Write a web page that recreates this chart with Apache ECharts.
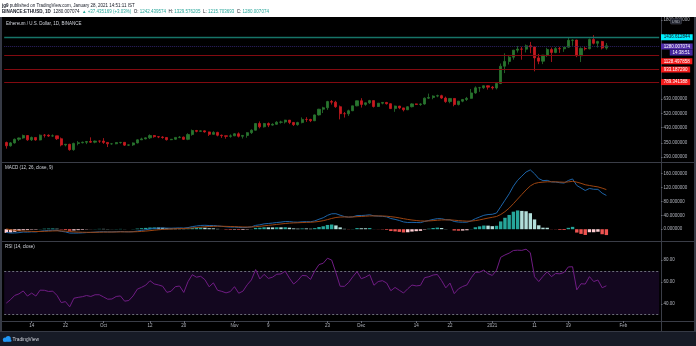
<!DOCTYPE html>
<html><head><meta charset="utf-8">
<script src="https://cdn.jsdelivr.net/npm/echarts@6.0.0/dist/echarts.min.js"></script>
<style>
html,body{margin:0;padding:0;background:#fff;}
#wrap{position:relative;width:696px;height:346px;overflow:hidden;background:#fff;}
.d{position:absolute;}
#chart{position:absolute;left:0;top:0;width:696px;height:346px;}
</style></head><body>
<div id="wrap">
 <div class="d" style="left:0;top:332px;width:696px;height:14px;background:#171b26"></div>
 <div class="d" style="left:0;top:17px;width:696px;height:315px;background:#363a45"></div>
 <div class="d" style="left:2px;top:17px;width:692px;height:314px;background:#000"></div>
 <div class="d" style="left:2px;top:162px;width:692px;height:1px;background:#3a3d47"></div>
 <div class="d" style="left:2px;top:241px;width:692px;height:1px;background:#3a3d47"></div>
 <div class="d" style="left:2px;top:321px;width:692px;height:1px;background:#3a3d47"></div>
 <div class="d" style="left:661px;top:17px;width:1px;height:314px;background:#3a3d47"></div>
 <div id="chart"></div>
</div>
<script>
// ---- DATA ----
// [date, open, close, low, high]
const ohlc = [
['2020-09-08',352.7,337.6,325.0,357.0],['2020-09-09',337.6,351.0,333.8,355.0],['2020-09-10',351.0,368.1,347.5,372.0],
['2020-09-11',368.1,374.7,360.0,376.8],['2020-09-12',374.7,387.2,370.6,392.0],['2020-09-13',387.2,365.6,360.7,388.6],
['2020-09-14',365.6,377.3,360.0,382.0],['2020-09-15',377.3,364.8,361.6,378.4],['2020-09-16',364.8,389.0,362.9,392.7],
['2020-09-17',389.0,388.6,377.0,395.0],['2020-09-18',388.6,384.4,380.0,393.4],['2020-09-19',384.4,385.5,381.0,392.8],
['2020-09-20',385.5,370.9,365.0,386.0],['2020-09-21',370.9,341.4,335.0,377.0],['2020-09-22',341.4,344.5,335.0,346.0],
['2020-09-23',344.5,320.6,316.0,346.6],['2020-09-24',320.6,348.5,316.0,352.0],['2020-09-25',348.5,351.7,339.6,359.6],
['2020-09-26',351.7,353.9,348.5,357.0],['2020-09-27',353.9,357.5,345.3,360.0],['2020-09-28',357.5,354.3,351.0,377.8],
['2020-09-29',354.3,359.5,349.2,362.0],['2020-09-30',359.5,359.4,351.0,361.8],
['2020-10-01',359.4,353.2,346.2,374.0],['2020-10-02',353.2,346.5,332.0,354.4],['2020-10-03',346.5,346.8,342.5,349.6],
['2020-10-04',346.8,352.4,344.5,353.7],['2020-10-05',352.4,353.5,347.5,355.0],['2020-10-06',353.5,340.6,337.0,354.0],
['2020-10-07',340.6,341.7,336.9,344.0],['2020-10-08',341.7,350.7,337.0,353.3],['2020-10-09',350.7,365.5,348.5,367.9],
['2020-10-10',365.5,370.2,365.0,376.0],['2020-10-11',370.2,375.4,368.0,377.7],['2020-10-12',375.4,387.0,369.5,393.3],
['2020-10-13',387.0,381.2,376.0,389.9],['2020-10-14',381.2,379.5,373.9,384.0],['2020-10-15',379.5,377.2,371.0,383.4],
['2020-10-16',377.2,366.2,362.0,378.7],['2020-10-17',366.2,368.4,364.0,369.8],['2020-10-18',368.4,377.5,366.1,378.0],
['2020-10-19',377.5,378.9,373.6,384.4],['2020-10-20',378.9,368.0,365.0,381.8],['2020-10-21',368.0,392.2,364.0,399.0],
['2020-10-22',392.2,413.7,386.3,419.4],['2020-10-23',413.7,409.3,404.0,417.2],['2020-10-24',409.3,412.0,406.2,414.9],
['2020-10-25',412.0,406.2,402.4,414.0],['2020-10-26',406.2,393.3,385.0,407.5],['2020-10-27',393.3,403.6,391.0,410.0],
['2020-10-28',403.6,388.5,383.0,407.0],['2020-10-29',388.5,386.0,375.0,392.0],['2020-10-30',386.0,382.8,371.0,386.0],
['2020-10-31',382.8,385.6,376.0,393.0],
['2020-11-01',385.6,396.2,383.8,399.5],['2020-11-02',396.2,383.4,377.4,403.6],['2020-11-03',383.4,387.7,372.0,389.5],
['2020-11-04',387.7,402.3,376.0,405.0],['2020-11-05',402.3,415.5,395.0,420.5],['2020-11-06',415.5,454.5,413.8,456.2],
['2020-11-07',454.5,434.8,426.0,467.2],['2020-11-08',434.8,454.3,430.6,458.0],['2020-11-09',454.3,444.8,433.1,460.9],
['2020-11-10',444.8,449.6,441.4,455.8],['2020-11-11',449.6,462.3,447.5,468.7],['2020-11-12',462.3,463.7,453.7,471.6],
['2020-11-13',463.7,475.4,454.1,477.6],['2020-11-14',475.4,461.0,450.5,476.0],['2020-11-15',461.0,447.5,440.0,463.9],
['2020-11-16',447.5,460.0,441.4,465.0],['2020-11-17',460.0,480.1,455.4,493.0],['2020-11-18',480.1,479.4,464.4,494.4],
['2020-11-19',479.4,471.6,463.0,484.0],['2020-11-20',471.6,509.6,469.1,512.6],['2020-11-21',509.6,549.8,505.3,552.6],
['2020-11-22',549.8,560.6,522.5,568.0],['2020-11-23',560.6,608.8,545.1,614.8],['2020-11-24',608.8,604.0,585.0,621.3],
['2020-11-25',604.0,568.4,560.0,615.0],['2020-11-26',568.4,518.3,480.0,577.3],['2020-11-27',518.3,517.6,492.0,530.0],
['2020-11-28',517.6,538.7,503.0,546.5],['2020-11-29',538.7,575.1,536.0,575.8],['2020-11-30',575.1,615.3,571.7,617.0],
['2020-12-01',615.3,586.3,562.0,637.0],['2020-12-02',586.3,598.6,575.5,601.5],['2020-12-03',598.6,616.6,589.8,622.8],
['2020-12-04',616.6,570.1,562.4,617.0],['2020-12-05',570.1,595.9,566.8,597.0],['2020-12-06',595.9,601.7,586.7,605.6],
['2020-12-07',601.7,591.7,585.0,606.0],['2020-12-08',591.7,554.4,551.0,594.1],['2020-12-09',554.4,573.6,531.0,577.0],
['2020-12-10',573.6,559.6,550.0,574.5],['2020-12-11',559.6,545.6,534.0,560.2],['2020-12-12',545.6,568.5,543.5,572.0],
['2020-12-13',568.5,590.3,563.0,596.0],['2020-12-14',590.3,586.3,581.4,593.4],['2020-12-15',586.3,589.3,575.3,594.0],
['2020-12-16',589.3,637.0,583.8,643.0],['2020-12-17',637.0,643.0,630.0,677.0],['2020-12-18',643.0,655.0,628.0,661.5],
['2020-12-19',655.0,658.9,645.0,667.5],['2020-12-20',658.9,638.0,631.0,667.0],['2020-12-21',638.0,608.7,598.6,650.4],
['2020-12-22',608.7,634.7,595.3,637.8],['2020-12-23',634.7,585.3,571.7,635.9],['2020-12-24',585.3,612.0,578.0,614.0],
['2020-12-25',612.0,626.0,603.4,630.4],['2020-12-26',626.0,635.3,614.0,647.7],['2020-12-27',635.3,683.3,632.0,720.0],
['2020-12-28',683.3,731.0,675.0,745.5],['2020-12-29',731.0,732.6,693.0,740.0],['2020-12-30',732.6,751.6,721.0,754.6],
['2020-12-31',751.6,737.8,714.0,755.0],
['2021-01-01',737.8,730.4,714.3,749.2],['2021-01-02',730.4,774.5,716.0,787.7],['2021-01-03',774.5,975.5,768.7,1011.0],
['2021-01-04',975.5,1040.0,890.0,1158.0],['2021-01-05',1040.0,1100.0,998.0,1133.5],['2021-01-06',1100.0,1208.8,1064.2,1210.0],
['2021-01-07',1208.8,1225.7,1170.0,1278.0],['2021-01-08',1225.7,1224.2,1064.0,1264.7],['2021-01-09',1224.2,1281.1,1171.0,1302.6],
['2021-01-10',1281.1,1262.2,1160.0,1349.0],['2021-01-11',1262.2,1090.1,911.0,1265.0],['2021-01-12',1090.1,1043.4,1002.0,1150.0],
['2021-01-13',1043.4,1130.7,1003.0,1133.0],['2021-01-14',1130.7,1218.2,1105.0,1246.0],['2021-01-15',1218.2,1171.8,1032.0,1250.0],
['2021-01-16',1171.8,1233.5,1159.4,1258.5],['2021-01-17',1233.5,1230.2,1165.0,1263.0],['2021-01-18',1230.2,1257.9,1181.0,1260.9],
['2021-01-19',1257.9,1377.4,1247.4,1440.0],['2021-01-20',1377.4,1382.6,1281.0,1395.0],['2021-01-21',1382.6,1121.0,1100.0,1388.0],
['2021-01-22',1121.0,1236.5,1031.1,1255.6],['2021-01-23',1236.5,1231.0,1203.0,1273.0],['2021-01-24',1231.0,1392.3,1221.0,1412.0],
['2021-01-25',1392.3,1324.4,1305.0,1476.0],['2021-01-26',1324.4,1357.1,1251.0,1370.0],['2021-01-27',1357.1,1242.6,1220.0,1368.0],
['2021-01-28',1242.4,1280.0,1215.7,1329.6]
];
const padDates = ['2021-01-29','2021-01-30','2021-01-31','2021-02-01','2021-02-02','2021-02-03','2021-02-04','2021-02-05','2021-02-06','2021-02-07','2021-02-08','2021-02-09'];

const macdLine = [
-9.4,-11.0,-10.8,-9.9,-8.2,-8.4,-7.6,-7.8,-6.0,-4.5,-3.7,-2.9,-3.4,-6.1,-7.8,-11.1,-11.2,-11.0,-10.5,-9.7,-9.2,-8.4,-7.6,
-7.4,-7.7,-7.8,-7.3,-6.8,-7.3,-7.6,-7.0,-5.3,-3.5,-1.6,0.8,2.2,3.1,3.7,3.2,2.9,3.4,3.8,3.3,4.7,7.5,9.3,10.8,11.3,10.6,10.8,9.6,8.3,7.0,6.1,
6.2,5.1,4.6,5.3,6.8,11.1,12.7,15.4,16.5,17.7,19.3,20.5,22.1,22.0,20.6,20.3,21.4,21.9,21.5,24.0,28.8,33.1,40.0,44.5,44.7,40.4,36.5,34.7,35.8,39.4,
39.5,40.2,41.6,38.6,37.8,37.3,35.6,30.9,28.4,25.1,21.0,19.4,19.7,19.3,19.0,22.4,25.3,28.2,30.5,30.3,27.4,27.0,22.3,20.6,20.1,20.3,24.0,30.4,35.2,40.1,42.3,
43.1,46.6,64.9,83.6,102.2,124.2,141.3,153.1,165.0,171.1,160.1,146.0,140.2,141.0,136.4,136.1,134.1,133.2,140.5,145.0,126.1,119.0,111.6,117.5,115.3,114.9,104.0,97.4
];
const signalLine = [
1.0,-1.4,-3.3,-4.6,-5.3,-5.9,-6.3,-6.6,-6.5,-6.1,-5.6,-5.0,-4.7,-5.0,-5.5,-6.6,-7.6,-8.3,-8.7,-8.9,-9.0,-8.9,-8.6,
-8.3,-8.2,-8.1,-8.0,-7.7,-7.6,-7.6,-7.5,-7.1,-6.3,-5.4,-4.2,-2.9,-1.7,-0.6,0.1,0.7,1.2,1.8,2.1,2.6,3.6,4.7,5.9,7.0,7.7,8.3,8.6,8.5,8.2,7.8,
7.5,7.0,6.5,6.3,6.4,7.3,8.4,9.8,11.1,12.4,13.8,15.2,16.5,17.6,18.2,18.6,19.2,19.7,20.1,20.9,22.5,24.6,27.7,31.0,33.8,35.1,35.4,35.2,35.3,36.2,
36.8,37.5,38.3,38.4,38.3,38.1,37.6,36.2,34.7,32.7,30.4,28.2,26.5,25.1,23.8,23.6,23.9,24.8,25.9,26.8,26.9,26.9,26.0,24.9,24.0,23.2,23.4,24.8,26.9,29.5,32.1,
34.3,36.7,42.4,50.6,60.9,73.6,87.1,100.3,113.3,124.8,131.9,134.7,135.8,136.8,136.8,136.6,136.1,135.5,136.5,138.2,135.8,132.4,128.3,126.1,123.9,122.1,118.5,114.3
];
const histogram = [
-10.4,-9.6,-7.5,-5.3,-2.9,-2.5,-1.3,-1.2,0.5,1.5,1.9,2.2,1.4,-1.1,-2.3,-4.4,-3.7,-2.7,-1.8,-0.8,-0.3,0.5,1.0,
1.0,0.6,0.3,0.6,0.9,0.3,0.0,0.5,1.8,2.9,3.8,4.9,5.1,4.8,4.3,3.0,2.2,2.1,2.1,1.2,2.1,3.9,4.6,4.8,4.3,2.9,2.5,1.0,-0.2,-1.2,-1.7,
-1.3,-1.9,-1.9,-1.0,0.5,3.8,4.3,5.6,5.4,5.2,5.5,5.4,5.6,4.4,2.4,1.6,2.2,2.2,1.4,3.1,6.3,8.5,12.3,13.5,10.9,5.3,1.1,-0.5,0.5,3.3,
2.7,2.7,3.3,0.2,-0.4,-0.8,-2.0,-5.3,-6.3,-7.7,-9.4,-8.8,-6.8,-5.7,-4.8,-1.1,1.4,3.5,4.6,3.5,0.5,0.0,-3.7,-4.3,-3.9,-3.0,0.6,5.6,8.3,10.6,10.3,
8.8,9.9,22.5,33.0,41.2,50.6,54.2,52.8,51.8,46.2,28.2,11.3,4.4,4.2,-0.4,-0.5,-2.0,-2.3,4.0,6.8,-9.7,-13.5,-16.6,-8.7,-8.7,-7.3,-14.5,-16.9
];
const rsi = [
40.6,43.8,47.7,49.1,51.8,47.1,49.8,47.1,52.5,52.4,51.3,51.6,47.7,41.1,42.0,37.2,45.1,45.9,46.5,47.6,46.7,48.3,48.3,
46.3,44.2,44.4,46.7,47.2,42.4,43.0,47.2,53.4,55.1,57.1,61.2,58.2,57.3,56.1,50.5,51.5,55.7,56.3,50.4,60.3,66.7,64.4,65.2,62.1,55.6,59.2,52.4,51.4,50.0,51.2,
55.7,49.7,51.6,57.4,61.9,71.4,62.8,67.0,63.3,64.4,67.1,67.4,69.9,63.5,58.1,61.4,66.0,65.7,62.4,70.2,76.0,77.2,81.8,80.1,68.5,56.1,56.0,59.5,64.8,69.5,
63.0,64.5,66.7,57.0,60.4,61.2,59.1,52.0,55.0,52.4,49.9,53.8,57.2,56.4,56.9,64.0,64.8,66.4,66.9,61.4,54.6,59.0,49.3,53.7,55.9,57.3,63.8,68.9,69.0,70.9,67.7,
66.0,70.8,82.7,84.8,86.5,88.9,89.2,89.0,90.1,86.9,64.8,60.4,65.2,69.3,64.9,67.8,67.5,68.8,73.8,74.0,52.8,58.4,58.1,64.9,60.4,61.8,54.7,56.5
];
const priceTicks = [1800, 630, 520, 430, 350, 290];
const macdTicks = [0, 40, 80, 120, 160];
const rsiTicks = [40, 60, 80];
const rsiBand = [30, 70];
const cyanLevel = 1436.612844;
const lastPrice = 1280.007074;
const redLevels = [1128.497858, 933.187290, 789.341388];
const timeTicks = [['2020-09-14','14'],['2020-09-22','22'],['2020-10-01','Oct'],['2020-10-12','12'],['2020-10-20','20'],
 ['2020-11-01','Nov'],['2020-11-09','9'],['2020-11-23','23'],['2020-12-01','Dec'],['2020-12-14','14'],['2020-12-22','22'],
 ['2021-01-01','2021'],['2021-01-11','11'],['2021-01-19','19'],['2021-02-01','Feb']];

// ---- CHART ----
const FONT = '"Liberation Sans", Arial, sans-serif';
const FS = 4.5;
const UP = '#28752f', DN = '#c8191f';
const AXC = '#b2b5be';
const dates = ohlc.map(r => r[0]).concat(padDates);
const tickMap = new Map(timeTicks);
const GL = 4.19, GW = 655;

const boxRich = (bg, fg) => ({backgroundColor: bg, color: fg, fontSize: FS, fontFamily: FONT, padding: [0, 2.7], height: 6, lineHeight: 6});

const chart = echarts.init(document.getElementById('chart'), null, {renderer: 'canvas'});
const option = {
  animation: false,
  backgroundColor: 'transparent',
  textStyle: {fontFamily: FONT},
  grid: [
    {left: GL, top: 17, width: GW, height: 145},
    {left: GL, top: 163, width: GW, height: 78},
    {left: GL, top: 242, width: GW, height: 79}
  ],
  xAxis: [0, 1, 2].map(i => ({
    type: 'category', gridIndex: i, data: dates, boundaryGap: true, show: i === 2,
    axisLine: {show: false},
    axisTick: {show: true, length: 2, alignWithLabel: true, interval: (idx, v) => tickMap.has(v), lineStyle: {color: '#6b6e78'}},
    axisLabel: {show: true, interval: (idx, v) => tickMap.has(v), formatter: v => tickMap.get(v) || '', color: AXC, fontSize: FS, margin: 2.5, fontFamily: FONT},
    splitLine: {show: false}
  })),
  yAxis: [
    {type: 'log', gridIndex: 0, min: 272, max: 1880, position: 'right', offset: 1.8,
     axisLine: {show: false}, splitLine: {show: false},
     axisTick: {show: true, length: 1.5, customValues: priceTicks, lineStyle: {color: '#6b6e78'}},
     axisLabel: {customValues: priceTicks, formatter: v => Number(v).toFixed(6), color: AXC, fontSize: FS, margin: 2.5, fontFamily: FONT}},
    {type: 'value', gridIndex: 1, min: -34, max: 191, position: 'right', offset: 1.8,
     axisLine: {show: false}, splitLine: {show: false},
     axisTick: {show: true, length: 1.5, customValues: macdTicks, lineStyle: {color: '#6b6e78'}},
     axisLabel: {customValues: macdTicks, formatter: v => Number(v).toFixed(6), color: AXC, fontSize: FS, margin: 2.5, fontFamily: FONT}},
    {type: 'value', gridIndex: 2, min: 24.2, max: 96.7, position: 'right', offset: 1.8,
     axisLine: {show: false}, splitLine: {show: false},
     axisTick: {show: true, length: 1.5, customValues: rsiTicks, lineStyle: {color: '#6b6e78'}},
     axisLabel: {customValues: rsiTicks, formatter: v => Number(v).toFixed(2), color: AXC, fontSize: FS, margin: 2.5, fontFamily: FONT}}
  ],
  series: [
    {type: 'candlestick', xAxisIndex: 0, yAxisIndex: 0,
     data: ohlc.map(r => [r[1], r[2], r[3], r[4]]), barWidth: 2.6,
     itemStyle: {color: UP, color0: DN, borderColor: UP, borderColor0: DN, borderWidth: 0.8},
     markLine: {
       symbol: 'none', silent: true, animation: false,
       data: [
         {yAxis: cyanLevel, lineStyle: {color: '#167468', width: 1.3, type: 'solid'},
          label: {show: true, position: 'end', distance: 1.8, formatter: '{r|' + cyanLevel.toFixed(6) + '}', rich: {r: boxRich('#00f0ff', '#131722')}}},
         {yAxis: lastPrice, lineStyle: {color: '#2e2266', width: 1, type: 'dotted'},
          label: {show: true, position: 'end', distance: 1.8,
            formatter: '{s| }\n{p|' + lastPrice.toFixed(6) + '}\n{q|14:38:51}',
            rich: {s: {height: 7.5, lineHeight: 7.5, fontSize: 1}, p: boxRich('#512da8', '#ffffff'), q: Object.assign(boxRich('#4527a0', '#ffffff'), {align: 'right'})}}},
         {yAxis: redLevels[0], lineStyle: {color: '#820a10', width: 1.2, type: 'solid'},
          label: {show: true, position: 'end', distance: 1.8, formatter: '{s| }\n{r|' + redLevels[0].toFixed(6) + '}',
            rich: {s: {height: 12, lineHeight: 12, fontSize: 1}, r: boxRich('#f21c1c', '#ffffff')}}},
         {yAxis: redLevels[1], lineStyle: {color: '#820a10', width: 1.2, type: 'solid'},
          label: {show: true, position: 'end', distance: 1.8, formatter: '{r|' + redLevels[1].toFixed(6) + '}', rich: {r: boxRich('#f21c1c', '#ffffff')}}},
         {yAxis: redLevels[2], lineStyle: {color: '#820a10', width: 1.2, type: 'solid'},
          label: {show: true, position: 'end', distance: 1.8, formatter: '{r|' + redLevels[2].toFixed(6) + '}', rich: {r: boxRich('#f21c1c', '#ffffff')}}}
       ]
     }},
    {type: 'bar', xAxisIndex: 1, yAxisIndex: 1, data: histogram, barWidth: 3.4,
     itemStyle: {color: p => {
       const i = p.dataIndex, h = histogram[i], prev = i > 0 ? histogram[i - 1] : h;
       if (h >= 0) return h > prev ? '#26a69a' : '#b2dfdb';
       return h < prev ? '#ef5350' : '#ffcdd2';
     }}},
    {type: 'line', xAxisIndex: 1, yAxisIndex: 1, data: macdLine, symbol: 'none', lineStyle: {color: '#1d64a8', width: 1}},
    {type: 'line', xAxisIndex: 1, yAxisIndex: 1, data: signalLine, symbol: 'none', lineStyle: {color: '#9c4410', width: 1}},
    {type: 'line', xAxisIndex: 2, yAxisIndex: 2, data: rsi, symbol: 'none', lineStyle: {color: '#701c84', width: 1}, z: 5,
     markArea: {silent: true, itemStyle: {color: '#13071f'}, data: [[{yAxis: rsiBand[0]}, {yAxis: rsiBand[1]}]]},
     markLine: {symbol: 'none', silent: true, label: {show: false}, lineStyle: {color: '#6b6e78', type: [2, 2], width: 1},
       data: [{yAxis: rsiBand[1]}, {yAxis: rsiBand[0]}]}}
  ],
  graphic: [
    {type: 'text', x: 2, y: 5.3, style: {text: '{b|jg9}{n| published on TradingView.com, January 28, 2021 14:51:11 IST}', verticalAlign: 'middle', fontSize: FS, fontFamily: FONT,
      rich: {b: {fill: '#131722', fontWeight: 'bold', fontSize: FS, fontFamily: FONT}, n: {fill: '#131722', fontSize: FS, fontFamily: FONT}}}},
    {type: 'text', x: 2, y: 11.3, style: {
      text: '{b|BINANCE:ETHUSD, 1D}{n|  1280.007074  }{g|▲ +37.435169 (+3.03%)}{n|  O: }{g|1242.439574}{n|  H: }{g|1329.576205}{n|  L: }{g|1215.703693}{n|  C: }{g|1280.007074}',
      verticalAlign: 'middle', fontSize: FS, fontFamily: FONT,
      rich: {b: {fill: '#131722', fontWeight: 'bold', fontSize: FS, fontFamily: FONT}, n: {fill: '#131722', fontSize: FS, fontFamily: FONT}, g: {fill: '#26a69a', fontSize: FS, fontFamily: FONT}}}},
    {type: 'text', x: 6, y: 24, style: {text: 'Ethereum / U.S. Dollar, 1D, BINANCE', fill: '#d1d4dc', fontSize: FS, fontFamily: FONT, verticalAlign: 'middle'}},
    {type: 'text', x: 5, y: 167.5, style: {text: 'MACD (12, 26, close, 9)', fill: '#d1d4dc', fontSize: FS, fontFamily: FONT, verticalAlign: 'middle'}},
    {type: 'text', x: 5, y: 247, style: {text: 'RSI (14, close)', fill: '#d1d4dc', fontSize: FS, fontFamily: FONT, verticalAlign: 'middle'}},
    {type: 'rect', x: 670.5, y: 18.8, z: 100, shape: {width: 11, height: 5.2, r: 0.8}, style: {fill: '#1e222d', stroke: '#50535e', lineWidth: 0.5}},
    {type: 'text', x: 676, y: 21.5, z: 101, style: {text: 'USD', fill: '#b2b5be', fontSize: 4, fontFamily: FONT, align: 'center', verticalAlign: 'middle'}},
    {type: 'circle', x: 5, y: 339.6, shape: {r: 2.1}, style: {fill: '#2196f3'}},
    {type: 'circle', x: 8.2, y: 338.6, shape: {r: 2.6}, style: {fill: '#2196f3'}},
    {type: 'rect', x: 3, y: 339.4, shape: {width: 8.5, height: 2.4, r: 1}, style: {fill: '#2196f3'}},
    {type: 'text', x: 12.5, y: 339.3, style: {text: 'TradingView', fill: '#d1d4dc', fontSize: 4.8, fontFamily: FONT, verticalAlign: 'middle'}}
  ]
};
chart.setOption(option);
</script>
</body></html>
